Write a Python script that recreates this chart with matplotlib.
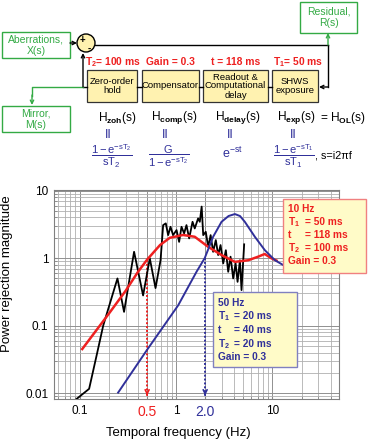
import matplotlib
matplotlib.use("Agg")
import matplotlib.pyplot as plt
from matplotlib.patches import Rectangle, Circle
from matplotlib.ticker import LogLocator, NullFormatter

plt.rcParams["font.family"] = ["Liberation Sans", "DejaVu Sans"]
plt.rcParams["mathtext.fontset"] = "custom"
plt.rcParams["mathtext.rm"] = "Liberation Sans"
plt.rcParams["mathtext.it"] = "Liberation Sans:italic"
plt.rcParams["mathtext.bf"] = "Liberation Sans:bold"
plt.rcParams["mathtext.default"] = "regular"

# measured power rejection (black, noisy)
MEAS_FREQ = [0.0925, 0.125, 0.150, 0.175, 0.246, 0.288, 0.366, 0.454, 0.533, 0.611,
             0.689, 0.733, 0.781, 0.826, 0.874, 0.930, 1.01, 1.074, 1.137, 1.21,
             1.28, 1.365, 1.48, 1.56, 1.69, 1.76, 1.84, 1.91, 2.03, 2.15,
             2.28, 2.42, 2.58, 2.73, 2.89, 3.08, 3.28, 3.47, 3.67, 3.91,
             4.14, 4.34, 4.59, 4.77, 4.96, 5.08]
MEAS_MAG = [0.0082, 0.0116, 0.037, 0.10, 0.50, 0.16, 1.24, 0.28, 0.99, 0.36,
            0.93, 3.08, 3.27, 2.19, 2.91, 2.19, 2.60, 1.74, 2.91, 2.32,
            3.08, 1.96, 3.45, 2.75, 3.87, 3.45, 5.8, 2.19, 2.45, 1.47,
            2.19, 1.24, 1.85, 1.11, 1.56, 0.835, 1.31, 0.627, 1.05, 0.50,
            0.835, 0.445, 0.93, 0.336, 0.88, 1.6]

# model, 10 Hz loop (red)
FREQ_10HZ = [0.106, 0.15, 0.2, 0.3, 0.4, 0.5, 0.68, 0.86, 1.18, 1.56, 2.15,
             2.96, 4.07, 5.6, 7.1, 8.3, 9.8, 11.0]
MAG_10HZ = [0.045, 0.087, 0.15, 0.33, 0.62, 0.95, 1.56, 2.0, 2.2, 2.07, 1.47,
            1.11, 0.88, 0.93, 1.05, 1.15, 0.99, 0.92]

# model, 50 Hz loop (blue)
FREQ_50HZ = [0.25, 0.5, 1.05, 1.63, 1.98, 2.42, 2.96, 3.5, 4.07, 4.6, 5.16,
             6.56, 8.33, 10.6, 12.9]
MAG_50HZ = [0.0102, 0.044, 0.2, 0.63, 1.0, 2.07, 3.45, 4.2, 4.49, 4.2, 3.45,
            2.07, 1.31, 0.93, 0.79]

RED_ARROW_F = 0.5
BLUE_ARROW_F = 2.0

X_TICKS = [0.1, 0.5, 1, 2, 10]
X_TICK_LABELS = ["0.1", "0.5", "1", "2.0", "10"]
Y_TICKS = [0.01, 0.1, 1, 10]
Y_TICK_LABELS = ["0.01", "0.1", "1", "10"]

BOX_10HZ = ["10 Hz", "$T_1$", "t", "$T_2$"]
VAL_10HZ = ["", "= 50 ms", "= 118 ms", "= 100 ms"]
BOX_50HZ = ["50 Hz", "$T_1$", "t", "$T_2$"]
VAL_50HZ = ["", "= 20 ms", "= 40 ms", "= 20 ms"]
GAIN_TEXT = "Gain = 0.3"

RED = "#EE2020"
NAVY = "#30309A"
GREEN = "#33AA44"
YELLOW = "#FFF2B0"
PALE = "#FFFBC8"

W, H = 368, 441
fig = plt.figure(figsize=(3.68, 4.41), dpi=100)

# ---- plot ----
ax = fig.add_axes([54 / W, 42 / H, 285 / W, 209 / H])
ax.set_xscale("log")
ax.set_yscale("log")
ax.set_xlim(0.054, 49)
ax.set_ylim(0.0082, 10.2)

ax.plot(MEAS_FREQ, MEAS_MAG, color="black", lw=1.3, zorder=3)
ax.plot(FREQ_10HZ, MAG_10HZ, color=RED, lw=1.8, zorder=4)
ax.plot(FREQ_50HZ, MAG_50HZ, color=NAVY, lw=1.4, zorder=4)

for f, mags, freqs, col in [(RED_ARROW_F, MAG_10HZ, FREQ_10HZ, RED),
                            (BLUE_ARROW_F, MAG_50HZ, FREQ_50HZ, NAVY)]:
    top = mags[min(range(len(freqs)), key=lambda i: abs(freqs[i] - f))]
    ax.plot([f, f], [top, 0.0095], color=col, lw=1.4, ls=(0, (1, 1)), zorder=2)
    ax.annotate("", xy=(f, 0.0084), xytext=(f, 0.0105),
                arrowprops=dict(arrowstyle="->", color=col, lw=1.2,
                                mutation_scale=7))

ax.xaxis.set_minor_locator(LogLocator(base=10, subs=range(2, 10)))
ax.xaxis.set_minor_formatter(NullFormatter())
ax.yaxis.set_minor_locator(LogLocator(base=10, subs=range(2, 10)))
ax.yaxis.set_minor_formatter(NullFormatter())
ax.set_xticks(X_TICKS)
ax.set_xticklabels(X_TICK_LABELS)
ax.set_yticks(Y_TICKS)
ax.set_yticklabels(Y_TICK_LABELS, fontsize=8.5)
for lbl, col, size in zip(ax.get_xticklabels(),
                          ["black", RED, "black", NAVY, "black"],
                          [8.5, 10, 8.5, 10, 8.5]):
    lbl.set_color(col)
    lbl.set_fontsize(size)
ax.tick_params(which="both", direction="in", length=2.5, color="#888888", pad=4)
ax.grid(which="major", color="#909090", lw=0.7)
ax.grid(which="minor", color="#B0B0B0", lw=0.6)
for sp in ax.spines.values():
    sp.set_color("#808080")

ax.set_ylabel("Power rejection magnitude", fontsize=9.5)
ax.yaxis.set_label_coords(-0.144, 0.6)
ax.set_xlabel("Temporal frequency (Hz)", fontsize=9.5)
ax.xaxis.set_label_coords(0.437, -0.161)
ax.xaxis.label.set_va("center")

# ---- overlay for diagram and annotation boxes (pixel layout) ----
dg = fig.add_axes([0, 0, 1, 1], zorder=5)
dg.set_xlim(0, W)
dg.set_ylim(H, 0)
dg.axis("off")
dg.patch.set_visible(False)


def arrow(x0, y0, x1, y1, col):
    dg.annotate("", xy=(x1, y1), xytext=(x0, y0),
                arrowprops=dict(arrowstyle="->", color=col, lw=1.0,
                                mutation_scale=6, shrinkA=0, shrinkB=0))


def param_box(x, y, w, h, names, vals, col, edge, x_eq, y0, step):
    dg.add_patch(Rectangle((x, y), w, h, facecolor=PALE, edgecolor=edge, lw=1.0))
    for i, (name, val) in enumerate(zip(names, vals)):
        yy = y0 + i * step
        dg.text(x + 4.5, yy, name, color=col, fontsize=7.3, fontweight="bold", va="center")
        dg.text(x_eq, yy, val, color=col, fontsize=7.3, fontweight="bold", va="center")
    dg.text(x + 4.5, y0 + len(names) * step, GAIN_TEXT, color=col, fontsize=7.3,
            fontweight="bold", va="center")


param_box(283, 199, 83, 74, BOX_10HZ, VAL_10HZ, RED, "#F08080", 305, 209.5, 12.8)
param_box(213, 292, 84, 75, BOX_50HZ, VAL_50HZ, NAVY, "#8080C0", 233.5, 302.5, 13.7)

# green signal boxes
for (x, y, w, h, txt) in [(2, 32, 68, 26, "Aberrations,\nX(s)"),
                          (300, 2, 57, 31, "Residual,\nR(s)"),
                          (2, 106, 68, 26, "Mirror,\nM(s)")]:
    dg.add_patch(Rectangle((x, y), w, h, facecolor="white", edgecolor=GREEN, lw=1.0))
    dg.text(x + w / 2, y + h / 2, txt, color=GREEN, fontsize=7.5, ha="center",
            va="center", linespacing=1.15)

# summing junction
dg.add_patch(Circle((86, 43), 9, facecolor=YELLOW, edgecolor="black", lw=1.0))
dg.text(82, 40.5, "+", fontsize=7, fontweight="bold", ha="center", va="center")
dg.text(89.5, 49, "-", fontsize=7, fontweight="bold", ha="center", va="center")
arrow(70, 43, 77, 43, "black")

# loop lines
dg.plot([95, 328], [45, 45], color="black", lw=1.0)
arrow(328, 45, 328, 33, GREEN)
dg.plot([328, 328], [45, 87], color="black", lw=1.0)
arrow(328, 87, 319, 87, "black")
dg.plot([87, 83], [87, 87], color="black", lw=1.0)
arrow(83, 87, 83, 53, "black")
dg.plot([83, 32, 32], [87, 87, 96], color=GREEN, lw=1.0)
arrow(32, 95, 32, 105, GREEN)

# process blocks
for (x0, x1, txt) in [(87, 137, "Zero-order\nhold"),
                      (142, 199, "Compensator"),
                      (203, 268, "Readout &\nComputational\ndelay"),
                      (272, 318, "SHWS\nexposure")]:
    dg.add_patch(Rectangle((x0, 70), x1 - x0, 32, facecolor=YELLOW,
                           edgecolor="#333333", lw=0.9))
    dg.text((x0 + x1) / 2, 86, txt, fontsize=6.8, ha="center", va="center",
            linespacing=1.0)
for (x0, x1) in [(137, 142), (199, 203), (268, 272)]:
    dg.plot([x0, x1], [87, 87], color="black", lw=1.0)

for (x, txt) in [(113, "$T_2$= 100 ms"), (170, "Gain = 0.3"),
                 (236, "t = 118 ms"), (298, "$T_1$= 50 ms")]:
    dg.text(x, 62, txt, color=RED, fontsize=7.4, fontweight="bold",
            ha="center", va="center")

# transfer functions
for (x, txt) in [(117, r"H$_{\mathbf{zoh}}$(s)"), (174, r"H$_{\mathbf{comp}}$(s)"),
                 (238, r"H$_{\mathbf{delay}}$(s)"), (296, r"H$_{\mathbf{exp}}$(s)")]:
    dg.text(x, 118, txt, fontsize=8.6, ha="center", va="center")
dg.text(320, 118, r"= H$_{\mathbf{OL}}$(s)", fontsize=8.6, ha="left", va="center")
for x in [108, 165, 230, 293]:
    dg.text(x, 135, "II", color=NAVY, fontsize=9, ha="center", va="center")
for (x, txt) in [(112, r"$\dfrac{1-e^{-sT_2}}{sT_2}$"),
                 (169, r"$\dfrac{G}{1-e^{-sT_2}}$"),
                 (294, r"$\dfrac{1-e^{-sT_1}}{sT_1}$")]:
    dg.text(x, 156, txt, color=NAVY, fontsize=8, ha="center", va="center")
dg.text(232, 153, r"$e^{-st}$", color=NAVY, fontsize=9, ha="center", va="center")
dg.text(315, 155, ", s=i2πf", fontsize=7.8, ha="left", va="center")

fig.savefig("out.png", dpi=100)
